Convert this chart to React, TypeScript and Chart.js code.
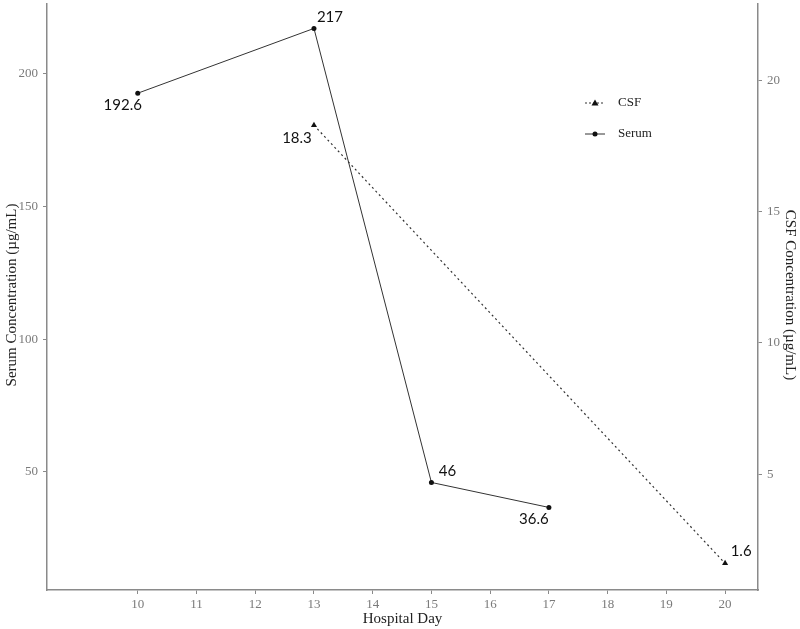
import React, { useEffect, useRef } from "react";
import { Chart, registerables } from "chart.js";

Chart.register(...registerables);

const serumDays = [10, 13, 15, 17];
const serumValues = [192.6, 217, 46, 36.6];
const csfDays = [13, 20];
const csfValues = [18.3, 1.6];
const xTicks = [10, 11, 12, 13, 14, 15, 16, 17, 18, 19, 20];
const leftTicks = [50, 100, 150, 200];
const rightTicks = [5, 10, 15, 20];
const serumLabels = ["192.6", "217", "46", "36.6"];
const csfLabels = ["18.3", "1.6"];
// label offset direction: -1 = below-left, 1 = above-right
const serumLabelDir = [-1, 1, 1, -1];
const csfLabelDir = [-1, 1];

const AXIS_COLOR = "#8a8a8a";
const TICK_COLOR = "#7a7a7a";

const overlayPlugin = {
  id: "overlay",
  afterDatasetsDraw(chart: any) {
    const ctx = chart.ctx;
    const x = chart.scales.x;
    const yl = chart.scales.y;
    const yr = chart.scales.y2;
    const area = chart.chartArea;
    ctx.save();
    ctx.fillStyle = "#111";
    ctx.font = "15px Lato";
    ctx.textAlign = "center";
    ctx.textBaseline = "middle";
    serumDays.forEach((d, i) => {
      const px = x.getPixelForValue(d);
      const py = yl.getPixelForValue(serumValues[i]);
      const dir = serumLabelDir[i];
      ctx.fillText(serumLabels[i], px + (dir > 0 ? 16 : -15), py + (dir > 0 ? -11 : 12));
    });
    csfDays.forEach((d, i) => {
      const px = x.getPixelForValue(d);
      const py = yr.getPixelForValue(csfValues[i]);
      const dir = csfLabelDir[i];
      ctx.fillText(csfLabels[i], px + (dir > 0 ? 16 : -17), py + (dir > 0 ? -12 : 13));
    });

    ctx.fillStyle = "#222";
    ctx.font = "15px 'Liberation Serif'";
    ctx.fillText("Hospital Day", (area.left + area.right) / 2, 619);
    const cy = 295;
    ctx.save();
    ctx.translate(12, cy);
    ctx.rotate(-Math.PI / 2);
    ctx.fillText("Serum Concentration (\u00b5g/mL)", 0, 0);
    ctx.restore();
    ctx.save();
    ctx.translate(790, cy);
    ctx.rotate(Math.PI / 2);
    ctx.fillText("CSF Concentration (\u00b5g/mL)", 0, 0);
    ctx.restore();

    const lx0 = 585, lx1 = 605;
    const items = [
      { label: "CSF", y: 103, dash: [2, 2], marker: "tri" },
      { label: "Serum", y: 134, dash: [], marker: "circle" },
    ];
    items.forEach((it) => {
      ctx.strokeStyle = "#333";
      ctx.lineWidth = 1;
      ctx.setLineDash(it.dash);
      ctx.beginPath();
      ctx.moveTo(lx0, it.y);
      ctx.lineTo(lx1, it.y);
      ctx.stroke();
      ctx.setLineDash([]);
      ctx.fillStyle = "#111";
      const mx = (lx0 + lx1) / 2;
      ctx.beginPath();
      if (it.marker === "tri") {
        ctx.moveTo(mx, it.y - 3.5);
        ctx.lineTo(mx + 3.5, it.y + 2.5);
        ctx.lineTo(mx - 3.5, it.y + 2.5);
        ctx.closePath();
      } else {
        ctx.arc(mx, it.y, 2.5, 0, Math.PI * 2);
      }
      ctx.fill();
      ctx.fillStyle = "#222";
      ctx.font = "13px 'Liberation Serif'";
      ctx.textAlign = "left";
      ctx.fillText(it.label, 618, it.y);
    });
    ctx.restore();
  },
};

export default function App() {
  const ref = useRef<HTMLCanvasElement>(null);
  useEffect(() => {
    document.body.style.margin = "0";
    const canvas = ref.current!;
    const tickFont = { family: "'Liberation Serif'", size: 13 };
    const grid = {
      display: true,
      drawOnChartArea: false,
      drawTicks: true,
      tickLength: 4,
      color: AXIS_COLOR,
      lineWidth: 1,
    };
    const border = { display: true, color: AXIS_COLOR, width: 1.5 };
    const chart = new Chart(canvas, {
      type: "line",
      data: {
        datasets: [
          {
            label: "Serum",
            data: serumDays.map((d, i) => ({ x: d, y: serumValues[i] })),
            borderColor: "#333",
            backgroundColor: "#111",
            borderWidth: 1,
            pointRadius: 2.5,
            pointStyle: "circle",
            pointBorderWidth: 0,
            yAxisID: "y",
          },
          {
            label: "CSF",
            data: csfDays.map((d, i) => ({ x: d, y: csfValues[i] })),
            borderColor: "#333",
            backgroundColor: "#111",
            borderWidth: 1.2,
            borderDash: [2, 3],
            pointRadius: 3.5,
            pointStyle: "triangle",
            pointBorderWidth: 0,
            yAxisID: "y2",
          },
        ],
      },
      options: {
        animation: false,
        responsive: false,
        maintainAspectRatio: false,
        layout: { padding: { top: 0, left: 0, right: 0, bottom: 0 } },
        plugins: { legend: { display: false }, tooltip: { enabled: false } },
        scales: {
          x: {
            type: "linear",
            min: 8.455,
            max: 20.56,
            grid,
            border,
            afterBuildTicks: (s: any) => {
              s.ticks = xTicks.map((v) => ({ value: v }));
            },
            afterFit: (s: any) => {
              s.height = 39;
              s.paddingLeft = 0;
              s.paddingRight = 0;
            },
            ticks: { color: TICK_COLOR, font: tickFont, padding: 3, autoSkip: false, maxRotation: 0 },
          },
          y: {
            type: "linear",
            position: "left",
            min: 5.5,
            max: 226.2,
            grid,
            border,
            afterBuildTicks: (s: any) => {
              s.ticks = leftTicks.map((v) => ({ value: v }));
            },
            afterFit: (s: any) => {
              s.width = 47;
              s.paddingTop = 0;
              s.paddingBottom = 0;
            },
            ticks: { color: TICK_COLOR, font: tickFont, padding: 5 },
          },
          y2: {
            type: "linear",
            position: "right",
            min: 0.585,
            max: 22.92,
            grid,
            border,
            afterBuildTicks: (s: any) => {
              s.ticks = rightTicks.map((v) => ({ value: v }));
            },
            afterFit: (s: any) => {
              s.width = 42;
              s.paddingTop = 0;
              s.paddingBottom = 0;
            },
            ticks: { color: TICK_COLOR, font: tickFont, padding: 5 },
          },
        },
      },
      plugins: [overlayPlugin],
    } as any);
    return () => chart.destroy();
  }, []);
  return (
    <div style={{ position: "absolute", left: 0, top: 0, width: 800, height: 629, background: "#fff" }}>
      <canvas ref={ref} width={800} height={629} style={{ width: 800, height: 629 }} />
    </div>
  );
}
